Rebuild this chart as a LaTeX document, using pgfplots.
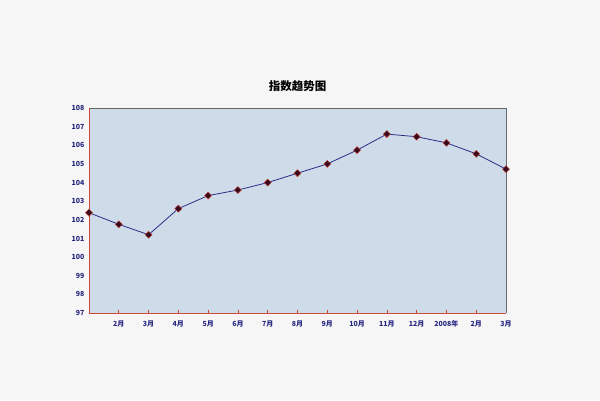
\documentclass[border=0pt]{standalone}
\usepackage{pgfplots}
\pgfplotsset{compat=1.18}
\usepackage{fontspec}
\setmainfont{Noto Sans CJK SC}
\definecolor{pagebg}{RGB}{246,246,246}
\definecolor{plotbg}{RGB}{206,220,233}
\definecolor{ticktext}{RGB}{40,40,130}
\definecolor{axisred}{RGB}{205,70,55}
\definecolor{linecol}{RGB}{45,45,135}
\definecolor{markfill}{RGB}{55,10,30}
\begin{document}
\begin{tikzpicture}
\fill[pagebg] (0pt,0pt) rectangle (600pt,-400pt);
\begin{axis}[
    at={(89pt,-313pt)}, anchor=south west,
    scale only axis,
    width=417pt, height=205pt,
    xmin=0, xmax=14,
    ymin=97, ymax=108,
    xtick={0,...,14},
    xticklabels={{},2月,3月,4月,5月,6月,7月,8月,9月,10月,11月,12月,2008年,2月,3月},
    ytick={97,...,108},
    axis background/.style={fill=plotbg},
    axis line style={draw=none},
    tick align=inside,
    major tick length=3pt,
    x tick style={axisred, line width=0.6pt},
    xtick pos=bottom,
    y tick style={draw=none},
    ytick pos=left,
    ticklabel style={font=\fontsize{7}{8}\selectfont\bfseries, text=ticktext},
    xticklabel style={yshift=-4pt},
    yticklabel style={xshift=-1pt},
    /pgf/number format/assume math mode=true,
    clip=false,
    title={\fontsize{11.5}{13}\selectfont\bfseries 指数趋势图},
    title style={yshift=7pt},
]
\addplot[color=linecol, line width=0.8pt,
    mark=square*, mark size=2.5pt,
    mark options={rotate=45, fill=markfill, draw=axisred, line width=0.4pt}]
    coordinates {
    (0,102.38)(1,101.76)(2,101.2)(3,102.6)(4,103.3)(5,103.6)(6,104.0)
    (7,104.5)(8,105.0)(9,105.74)(10,106.6)(11,106.46)(12,106.13)(13,105.54)(14,104.72)
    };
\draw[gray!80!black, line width=0.6pt] (rel axis cs:0,1) -- (rel axis cs:1,1) -- (rel axis cs:1,0);
\draw[axisred, line width=0.8pt] (rel axis cs:0,1) -- (rel axis cs:0,0) -- (rel axis cs:1,0);
\end{axis}
\end{tikzpicture}
\end{document}
